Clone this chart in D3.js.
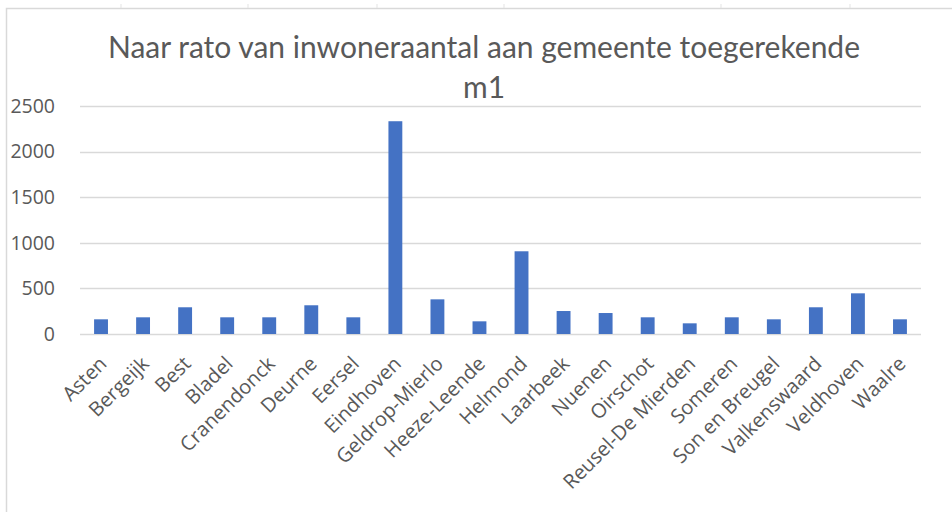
<!DOCTYPE html>
<html>
<head>
<meta charset="utf-8">
<script src="https://cdn.jsdelivr.net/npm/d3@7"></script>
<style>
  html, body { margin: 0; padding: 0; background: #fff; }
  svg text { font-family: "Open Sans", sans-serif; fill: #595959; }
  svg .title { font-family: Lato, "Open Sans", sans-serif; }
</style>
</head>
<body>
<div id="chart"></div>
<script>
// Chart values
const GEMEENTEN = ['Asten', 'Bergeijk', 'Best', 'Bladel', 'Cranendonck', 'Deurne', 'Eersel',
  'Eindhoven', 'Geldrop-Mierlo', 'Heeze-Leende', 'Helmond', 'Laarbeek', 'Nuenen', 'Oirschot',
  'Reusel-De Mierden', 'Someren', 'Son en Breugel', 'Valkenswaard', 'Veldhoven', 'Waalre'];
const WAARDEN = [161, 183, 293, 183, 183, 315, 183, 2333, 380, 139, 907, 252, 230, 183, 117,
  183, 161, 293, 446, 161];
const Y_TICKS = [0, 500, 1000, 1500, 2000, 2500];
const TITLE_LINES = ['Naar rato van inwoneraantal aan gemeente toegerekende', 'm1'];

// Layout
const WIDTH = 952, HEIGHT = 512;
const MARGIN = {top: 106, right: 31, bottom: 178, left: 80};
const BAR_COLOR = '#4472c4';
const GRID_COLOR = '#d9d9d9';

const svg = d3.select('#chart').append('svg')
  .attr('width', WIDTH)
  .attr('height', HEIGHT);

// Chart border (Excel chart area)
svg.append('path')
  .attr('d', `M6.5,${HEIGHT} V8.5 H${WIDTH}`)
  .attr('fill', 'none')
  .attr('stroke', '#d9d9d9')
  .attr('stroke-width', 1.5);

// little sheet gridline stubs above the chart
svg.selectAll('.stub')
  .data([121, 248, 377, 504, 721, 850])
  .enter().append('line')
  .attr('x1', d => d).attr('x2', d => d)
  .attr('y1', 4).attr('y2', 8)
  .attr('stroke', '#e3e3e3');

const innerW = WIDTH - MARGIN.left - MARGIN.right;
const innerH = HEIGHT - MARGIN.top - MARGIN.bottom;

const g = svg.append('g')
  .attr('transform', `translate(${MARGIN.left}, ${MARGIN.top})`);

const x = d3.scaleBand()
  .domain(GEMEENTEN)
  .range([0, innerW])
  .paddingInner(0.67)
  .paddingOuter(0.335);

const y = d3.scaleLinear()
  .domain([0, 2500])
  .range([innerH, 0]);

// Gridlines
g.append('g')
  .selectAll('line')
  .data(Y_TICKS)
  .enter().append('line')
  .attr('x1', 0)
  .attr('x2', innerW)
  .attr('y1', d => Math.round(y(d)) + 0.5)
  .attr('y2', d => Math.round(y(d)) + 0.5)
  .attr('stroke', GRID_COLOR)
  .attr('stroke-width', 1.3);

// Y axis
const yAxis = d3.axisLeft(y)
  .tickValues(Y_TICKS)
  .tickFormat(d3.format('d'))
  .tickSize(0)
  .tickPadding(25);

g.append('g')
  .attr('class', 'y axis')
  .call(yAxis)
  .call(s => s.select('.domain').remove())
  .selectAll('text')
  .style('font-size', '19.5px')
  .style('fill', '#595959');

// Bars
g.append('g')
  .selectAll('rect')
  .data(WAARDEN)
  .enter().append('rect')
  .attr('x', (d, i) => x(GEMEENTEN[i]))
  .attr('y', d => y(d))
  .attr('width', x.bandwidth())
  .attr('height', d => innerH - y(d))
  .attr('fill', BAR_COLOR);

// X axis
const xAxis = d3.axisBottom(x)
  .tickSize(0)
  .tickPadding(0);

g.append('g')
  .attr('class', 'x axis')
  .attr('transform', `translate(0, ${innerH})`)
  .call(xAxis)
  .call(s => s.select('.domain').remove())
  .selectAll('text')
  .style('font-size', '20px')
  .style('fill', '#595959')
  .attr('text-anchor', 'end')
  .attr('dy', null)
  .attr('y', 0)
  .attr('transform', 'translate(7, 31) rotate(-45)');

// Title
svg.append('text')
  .attr('class', 'title')
  .attr('text-anchor', 'middle')
  .style('font-size', '30px')
  .selectAll('tspan')
  .data(TITLE_LINES)
  .enter().append('tspan')
  .attr('x', 484)
  .attr('y', (d, i) => 58 + i * 40)
  .text(d => d);
</script>
</body>
</html>
